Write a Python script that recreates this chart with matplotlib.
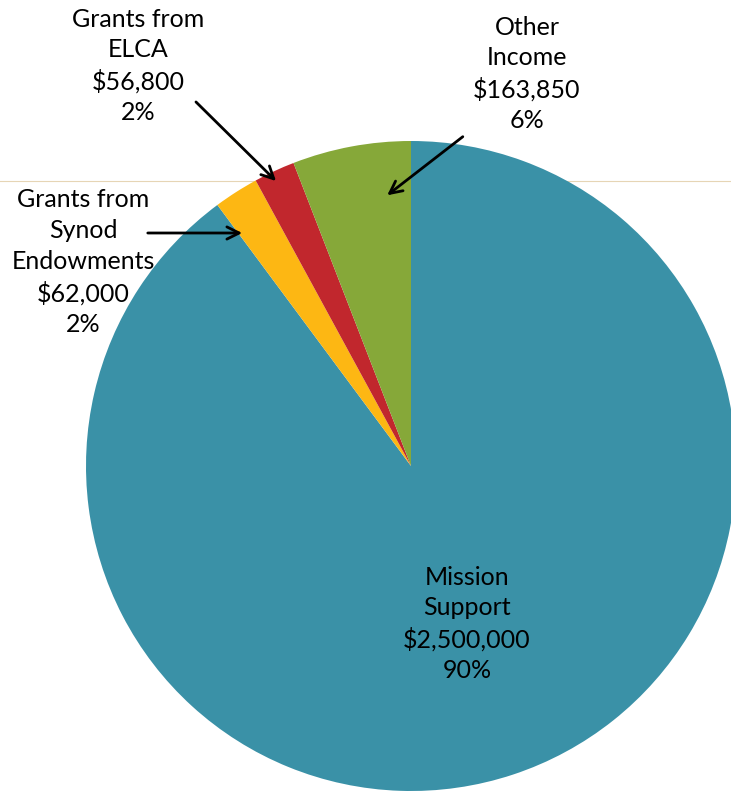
import numpy as np
import matplotlib.pyplot as plt
from matplotlib.lines import Line2D

# data
labels = ["Mission\nSupport", "Grants from\nSynod\nEndowments", "Grants from\nELCA", "Other\nIncome"]
values = [2500000, 62000, 56800, 163850]
colors = ["#3A91A7", "#FDB713", "#C1272D", "#86A839"]

total = sum(values)
pcts = [round(100 * v / total) for v in values]
texts = [f"{l}\n${v:,}\n{p}%" for l, v, p in zip(labels, values, pcts)]

plt.rcParams['font.family'] = ['Lato', 'DejaVu Sans']

W, H = 731, 793
fig = plt.figure(figsize=(W / 100, H / 100), dpi=100)

# pie centre and radius in pixels
cx, cy, r = 411, 466, 325
ax = fig.add_axes([(cx - r) / W, (H - cy - r) / H, 2 * r / W, 2 * r / H])
ax.patch.set_visible(False)

# faint guide line behind the pie
fig.add_artist(Line2D([0, 1], [(H - 181) / H] * 2, transform=fig.transFigure,
                      color="#E6D5B5", lw=0.8, zorder=-1))

ax.pie(values, colors=colors, startangle=90, counterclock=False, radius=1,
       wedgeprops=dict(linewidth=0))
ax.set_xlim(-1, 1)
ax.set_ylim(-1, 1)
ax.set_aspect('equal')
ax.axis('off')


def px(x, y):
    return ((x - cx) / r, (cy - y) / r)


fs = 18
ls = 1.4
# Mission Support, inside the slice
ax.text(*px(467, 624), texts[0], ha='center', va='center', fontsize=fs, linespacing=ls)

arrow = dict(arrowstyle='->', color='black', lw=2, mutation_scale=22)

# Synod
ax.text(*px(83, 262), texts[1], ha='center', va='center', fontsize=fs, linespacing=ls)
ax.annotate('', xy=px(245, 233), xytext=px(145, 233), arrowprops=arrow)

# ELCA
ax.text(*px(138, 66), texts[2], ha='center', va='center', fontsize=fs, linespacing=ls)
ax.annotate('', xy=px(278, 183), xytext=px(194, 100), arrowprops=arrow)

# Other Income
ax.text(*px(527, 74), texts[3], ha='center', va='center', fontsize=fs, linespacing=ls)
ax.annotate('', xy=px(385, 197), xytext=px(465, 135), arrowprops=arrow)

fig.savefig("out.png", dpi=100)
